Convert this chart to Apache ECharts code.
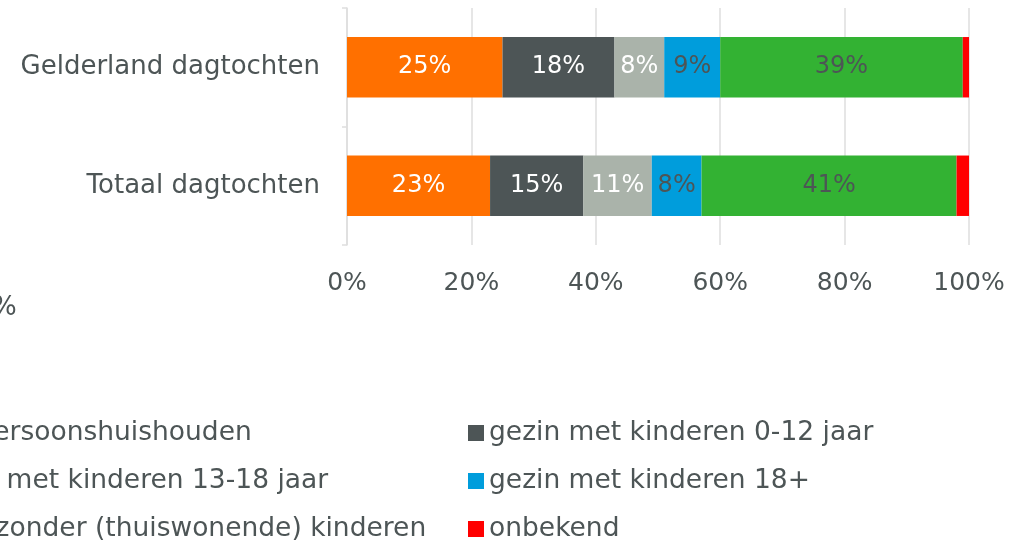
<!DOCTYPE html>
<html>
<head>
<meta charset="utf-8">
<script src="https://cdn.jsdelivr.net/npm/echarts@6/dist/echarts.min.js"></script>
<style>
  html, body { margin: 0; padding: 0; background: #fff; }
  #chart { width: 1025px; height: 543px; }
</style>
</head>
<body>
<div id="chart"></div>
<script>
  // categories, bottom to top
  var categories = ['Totaal dagtochten', 'Gelderland dagtochten']

  var seriesNames = [
    'eenpersoonshuishouden',
    'gezin met kinderen 0-12 jaar',
    'gezin met kinderen 13-18 jaar',
    'gezin met kinderen 18+',
    'paar zonder (thuiswonende) kinderen',
    'onbekend'
  ]

  // [Totaal, Gelderland]
  var eenpersoon = [23, 25]
  var gezin012 = [15, 18]
  var gezin1318 = [11, 8]
  var gezin18plus = [8, 9]
  var paarZonder = [41, 39]
  var onbekend = [2, 1]

  var xTicks = [0, 20, 40, 60, 80, 100]

  var colors = ['#ff7000', '#4d5556', '#aab3aa', '#009ddc', '#33b233', '#ff0000']
  var labelColors = ['#ffffff', '#ffffff', '#ffffff', '#4d5556', '#4d5556', '#4d5556']
  var values = [eenpersoon, gezin012, gezin1318, gezin18plus, paarZonder, onbekend]

  var textColor = '#4d5556'
  var font = 'DejaVu Sans'
  var fontSize = 26
  var legendFontSize = 26.5

  // measure the widest left-column legend text so the column ends where the reference does
  var ctx = document.createElement('canvas').getContext('2d')
  ctx.font = legendFontSize + 'px "' + font + '"'
  var col1Width = ctx.measureText(seriesNames[4]).width
  var col1Left = Math.round(426 - col1Width - 5 - 16)

  var chart = echarts.init(document.getElementById('chart'))

  var series = seriesNames.map(function (name, i) {
    return {
      name: name,
      type: 'bar',
      stack: 'total',
      barWidth: '51%',
      itemStyle: {color: colors[i]},
      label: {
        show: i < 5,
        position: 'inside',
        formatter: '{c}%',
        color: labelColors[i],
        fontFamily: font,
        fontSize: 24
      },
      emphasis: {disabled: true},
      data: values[i]
    }
  })

  var legendCommon = {
    orient: 'vertical',
    icon: 'rect',
    itemWidth: 16,
    itemHeight: 16,
    itemGap: 18,
    padding: 0,
    top: 418,
    height: 200,
    textStyle: {color: textColor, fontFamily: font, fontSize: legendFontSize, lineHeight: 30}
  }

  chart.setOption({
    backgroundColor: '#fff',
    animation: false,
    grid: {
      left: 347,
      right: 56,
      top: 8,
      bottom: 298,
      containLabel: false,
      outerBoundsMode: 'none'
    },
    legend: [
      Object.assign({}, legendCommon, {
        left: col1Left,
        data: [seriesNames[0], seriesNames[2], seriesNames[4]]
      }),
      Object.assign({}, legendCommon, {
        left: 468,
        data: [seriesNames[1], seriesNames[3], seriesNames[5]]
      })
    ],
    xAxis: {
      type: 'value',
      min: xTicks[0],
      max: xTicks[xTicks.length - 1],
      interval: 20,
      axisLine: {show: false},
      axisTick: {show: false},
      splitLine: {lineStyle: {color: '#dedede', width: 1.5}},
      axisLabel: {
        formatter: '{value}%',
        margin: 26,
        color: textColor,
        fontFamily: font,
        fontSize: 25
      }
    },
    yAxis: {
      type: 'category',
      data: categories,
      axisLine: {show: true, lineStyle: {color: '#dedede', width: 1.5}},
      axisTick: {show: true, length: 5, lineStyle: {color: '#dedede', width: 1.5}},
      axisLabel: {
        margin: 27,
        color: textColor,
        fontFamily: font,
        fontSize: fontSize
      }
    },
    graphic: [{
      type: 'text',
      left: -8,
      top: 295,
      style: {text: '%', fill: textColor, font: fontSize + 'px "' + font + '"'}
    }],
    series: series
  })
</script>
</body>
</html>
